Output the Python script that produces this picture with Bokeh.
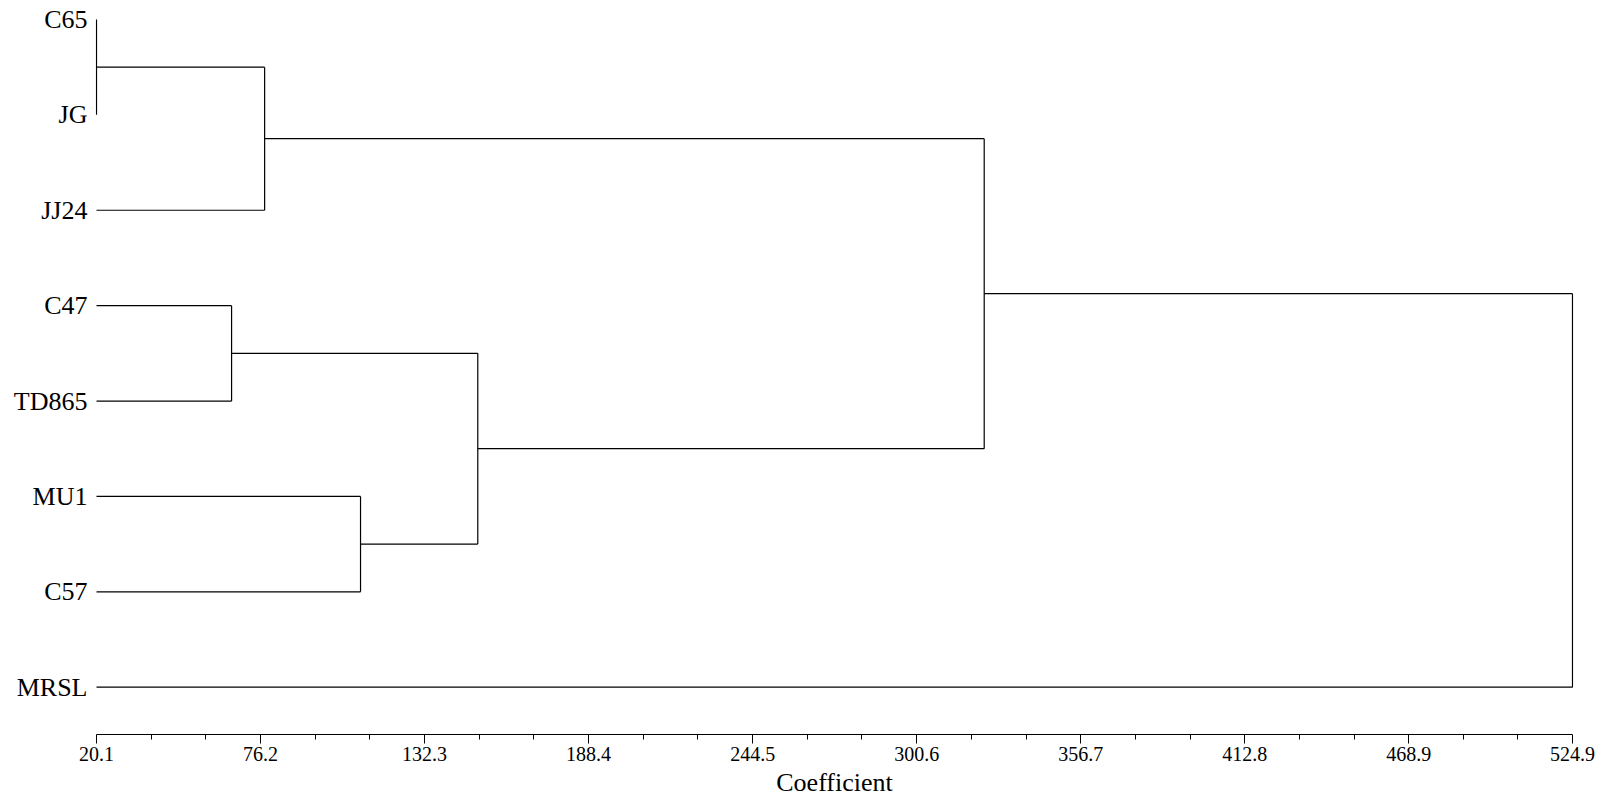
from bokeh.plotting import figure
from bokeh.models import Range1d, FixedTicker
from bokeh.embed import file_html
from bokeh.resources import INLINE

# ---- data ----
leaves = ["C65", "JG", "JJ24", "C47", "TD865", "MU1", "C57", "MRSL"]
# linkage: (left child, right child, coefficient at which they join)
merge_left = ["C65", "m0", "C47", "MU1", "m2", "m1", "m5"]
merge_right = ["JG", "JJ24", "TD865", "C57", "m3", "m4", "MRSL"]
merge_height = [20.1, 77.6, 66.3, 110.4, 150.5, 323.7, 524.9]
tick_values = [20.1, 76.2, 132.3, 188.4, 244.5, 300.6, 356.7, 412.8, 468.9, 524.9]
tick_labels = ["20.1", "76.2", "132.3", "188.4", "244.5", "300.6", "356.7", "412.8", "468.9", "524.9"]
x_label = "Coefficient"

FONT = "Liberation Serif"

# ---- dendrogram geometry from linkage ----
pos = {name: float(i) for i, name in enumerate(leaves)}
hgt = {name: tick_values[0] for name in leaves}
xs, ys = [], []
for k, (a, b, h) in enumerate(zip(merge_left, merge_right, merge_height)):
    for c in (a, b):
        xs.append([hgt[c], h])
        ys.append([pos[c], pos[c]])
    xs.append([h, h])
    ys.append([pos[a], pos[b]])
    name = "m%d" % k
    pos[name] = (pos[a] + pos[b]) / 2.0
    hgt[name] = h

# one pixel of padding on each side so edge lines are not clipped
span = tick_values[-1] - tick_values[0]
pad = span / 1476.0
p = figure(width=1604, height=800, output_backend="svg", toolbar_location=None,
           x_range=Range1d(tick_values[0] - pad, tick_values[-1] + pad),
           y_range=Range1d(7.496, -0.199),
           min_border_left=95, min_border_right=31, min_border_top=0,
           min_border_bottom=66)
p.frame_width = 1478
p.frame_height = 734
p.outline_line_color = None
p.background_fill_color = "white"
p.border_fill_color = "white"
p.xgrid.visible = False
p.ygrid.visible = False

p.multi_line(xs, ys, line_color="black", line_width=1.2)

# x axis
minor = []
for a, b in zip(tick_values[:-1], tick_values[1:]):
    d = (b - a) / 3.0
    minor += [a + d, a + 2 * d]
xa = p.xaxis[0]
xa.ticker = FixedTicker(ticks=tick_values, minor_ticks=minor)
xa.major_label_overrides = {v: l for v, l in zip(tick_values, tick_labels)}
xa.bounds = (tick_values[0], tick_values[-1])
xa.axis_label = x_label
xa.axis_label_text_font = FONT
xa.axis_label_text_font_size = "26px"
xa.axis_label_text_font_style = "normal"
xa.axis_label_text_color = "black"
xa.axis_label_standoff = 4
xa.major_label_text_font = FONT
xa.major_label_text_font_size = "20px"
xa.major_label_text_color = "black"
xa.major_label_standoff = 3
xa.axis_line_color = "black"
xa.axis_line_width = 1.2
xa.major_tick_line_color = "black"
xa.minor_tick_line_color = "black"
xa.major_tick_in = 0
xa.major_tick_out = 9
xa.minor_tick_in = 0
xa.minor_tick_out = 5

# y axis: leaf labels
ya = p.yaxis[0]
ya.ticker = FixedTicker(ticks=[pos[n] for n in leaves], minor_ticks=[])
ya.major_label_overrides = {pos[n]: n for n in leaves}
ya.major_label_text_font = FONT
ya.major_label_text_font_size = "26px"
ya.major_label_text_color = "black"
ya.major_label_standoff = 8
ya.axis_line_color = None
ya.major_tick_line_color = None
ya.minor_tick_line_color = None
ya.major_tick_out = 0
ya.major_tick_in = 0

open("out.html", "w").write(file_html(p, INLINE))
